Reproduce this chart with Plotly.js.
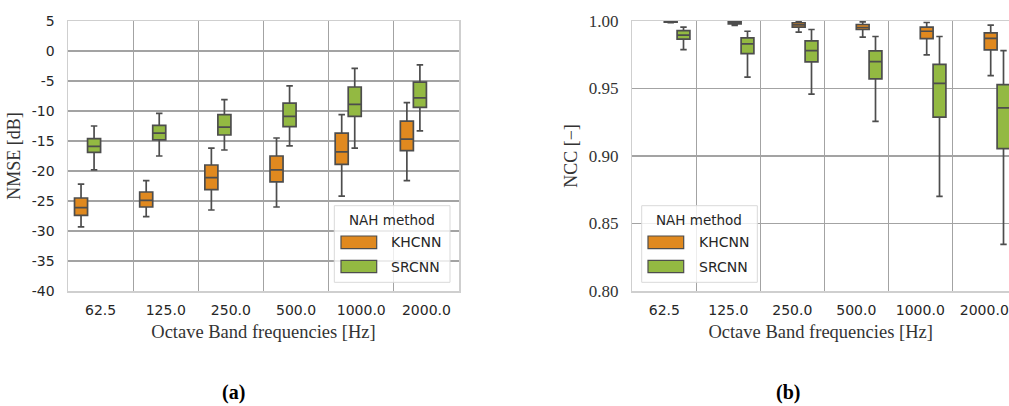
<!DOCTYPE html>
<html>
<head>
<meta charset="utf-8">
<script src="https://cdn.plot.ly/plotly-3.0.1.min.js"></script>
<style>html,body{margin:0;padding:0;background:#fff;}#chart{width:1009px;height:406px;}</style>
</head>
<body>
<div id="chart"></div>
<script>
// ---------- data ----------
const categories = ['62.5', '125.0', '250.0', '500.0', '1000.0', '2000.0'];
const methods = ['KHCNN', 'SRCNN'];

// NMSE [dB]
const nmseKhLow  = [-29.3, -27.6, -26.5, -26.0, -24.2, -21.6];
const nmseKhQ1   = [-27.4, -26.0, -23.1, -21.8, -18.9, -16.6];
const nmseKhMed  = [-26.1, -24.9, -21.1, -19.8, -16.8, -14.7];
const nmseKhQ3   = [-24.5, -23.5, -19.0, -17.5, -13.7, -11.7];
const nmseKhHigh = [-22.2, -21.6, -16.2, -14.5, -10.6, -8.6];

const nmseSrLow  = [-19.8, -17.5, -16.5, -15.8, -16.2, -13.3];
const nmseSrQ1   = [-16.9, -14.8, -14.0, -12.6, -10.9, -9.4];
const nmseSrMed  = [-15.9, -13.7, -12.7, -10.9, -8.9, -7.8];
const nmseSrQ3   = [-14.6, -12.4, -10.6, -8.7, -6.0, -5.2];
const nmseSrHigh = [-12.5, -10.4, -8.1, -5.8, -2.9, -2.3];

// NCC [-]
const nccKhLow  = [0.9987, 0.9968, 0.9917, 0.9880, 0.9749, 0.9595];
const nccKhQ1   = [0.9991, 0.9979, 0.9954, 0.9937, 0.9870, 0.9786];
const nccKhMed  = [0.9994, 0.9986, 0.9972, 0.9952, 0.9924, 0.9872];
const nccKhQ3   = [0.9996, 0.9993, 0.9987, 0.9974, 0.9954, 0.9912];
const nccKhHigh = [0.9999, 0.9999, 0.9996, 0.9994, 0.9989, 0.9969];

const nccSrLow  = [0.9788, 0.9585, 0.9459, 0.9256, 0.8701, 0.8345];
const nccSrQ1   = [0.9865, 0.9759, 0.9697, 0.9571, 0.9288, 0.9055];
const nccSrMed  = [0.9895, 0.9831, 0.9781, 0.9699, 0.9538, 0.9357];
const nccSrQ3   = [0.9929, 0.9875, 0.9853, 0.9779, 0.9679, 0.9528];
const nccSrHigh = [0.9954, 0.9924, 0.9937, 0.9885, 0.9885, 0.9781];

const nmseTickVals = [-40, -35, -30, -25, -20, -15, -10, -5, 0, 5];
const nmseTickText = ['-40', '-35', '-30', '-25', '-20', '-15', '-10', '-5', '0', '5'];
const nccTickVals = [0.80, 0.85, 0.90, 0.95, 1.00];
const nccTickText = ['0.80', '0.85', '0.90', '0.95', '1.00'];

// ---------- style ----------
const colors = {KHCNN: '#E0891F', SRCNN: '#93B942'};
const edge = '#4d4d4d';
const W = 1009, H = 406;
const plotTop = 21, plotBottom = 291;
const sans = 'DejaVu Sans, sans-serif';
const serif = 'Liberation Serif, serif';

function box(name, xa, ya, lo, q1, med, q3, hi) {
  return {
    type: 'box', name: name, x: categories, xaxis: xa, yaxis: ya,
    lowerfence: lo, q1: q1, median: med, q3: q3, upperfence: hi,
    fillcolor: colors[name], line: {color: edge, width: 1.7},
    whiskerwidth: 0.5, showlegend: false, hoverinfo: 'y', boxpoints: false
  };
}

const data = [
  box('KHCNN', 'x', 'y', nmseKhLow, nmseKhQ1, nmseKhMed, nmseKhQ3, nmseKhHigh),
  box('SRCNN', 'x', 'y', nmseSrLow, nmseSrQ1, nmseSrMed, nmseSrQ3, nmseSrHigh),
  box('KHCNN', 'x2', 'y2', nccKhLow, nccKhQ1, nccKhMed, nccKhQ3, nccKhHigh),
  box('SRCNN', 'x2', 'y2', nccSrLow, nccSrQ1, nccSrMed, nccSrQ3, nccSrHigh)
];

// pixel -> paper helpers (for legend decorations and panel labels)
const px = v => v / W;
const py = v => (plotBottom - v) / (plotBottom - plotTop);

const shapes = [];
const annotations = [];
function legendBlock(x0, x1, swX0, swX1, txtX, titleX) {
  shapes.push({type: 'rect', xref: 'paper', yref: 'paper', x0: px(x0), x1: px(x1), y0: py(282.3), y1: py(205.7),
    fillcolor: 'rgba(255,255,255,0.8)', line: {color: '#d9d9d9', width: 1}, layer: 'above'});
  annotations.push({xref: 'paper', yref: 'paper', x: px(titleX), y: py(219.5), xanchor: 'center', yanchor: 'middle',
    text: 'NAH method', showarrow: false, font: {family: sans, size: 13.5, color: '#262626'}});
  const rows = [[236, 248.7, 242.3], [260.3, 272.7, 266.8]];
  methods.forEach((m, i) => {
    shapes.push({type: 'rect', xref: 'paper', yref: 'paper', x0: px(swX0), x1: px(swX1), y0: py(rows[i][1]), y1: py(rows[i][0]),
      fillcolor: colors[m], line: {color: edge, width: 1.2}, layer: 'above'});
    annotations.push({xref: 'paper', yref: 'paper', x: px(txtX), y: py(rows[i][2]), xanchor: 'left', yanchor: 'middle',
      text: m, showarrow: false, font: {family: sans, size: 14, color: '#262626'}});
  });
}
legendBlock(334.3, 450, 341, 376.7, 389, 392.3);
legendBlock(641.7, 757.3, 648, 683.7, 696.5, 699.3);

annotations.push({xref: 'paper', yref: 'paper', x: px(233), y: py(392), xanchor: 'center', yanchor: 'middle',
  text: '<b>(a)</b>', showarrow: false, font: {family: serif, size: 20, color: '#000'}});
annotations.push({xref: 'paper', yref: 'paper', x: px(788), y: py(392), xanchor: 'center', yanchor: 'middle',
  text: '<b>(b)</b>', showarrow: false, font: {family: serif, size: 20, color: '#000'}});

const gridColor = '#a3a3a3';
const frameColor = '#cfcfcf';
const xBase = {
  type: 'category', tickson: 'boundaries', ticks: '', showgrid: true, gridcolor: gridColor, gridwidth: 1.2,
  showline: true, linecolor: frameColor, linewidth: 1.5, mirror: true, zeroline: false,
  tickfont: {family: sans, size: 14, color: '#262626'}, ticklabelstandoff: 6,
  title: {text: 'Octave Band frequencies [Hz]', font: {family: serif, size: 18.5, color: '#333'}, standoff: 8}
};

const layout = {
  width: W, height: H,
  margin: {l: 0, r: 0, t: plotTop, b: H - plotBottom, pad: 0},
  paper_bgcolor: '#fff', plot_bgcolor: '#fff',
  boxmode: 'group', boxgap: 0.2, boxgroupgap: 0,
  showlegend: false,
  xaxis: Object.assign({}, xBase, {domain: [px(68), px(459)], anchor: 'y', range: [-0.5, 5.5]}),
  yaxis: {
    domain: [0, 1], anchor: 'x', range: [-40, 5], tickvals: nmseTickVals, ticktext: nmseTickText,
    ticks: '', showgrid: true, gridcolor: gridColor, gridwidth: 1.2, zeroline: false,
    showline: true, linecolor: frameColor, linewidth: 1.5, mirror: true,
    tickfont: {family: sans, size: 14, color: '#262626'}, ticklabelstandoff: 9,
    title: {text: 'NMSE [dB]', font: {family: serif, size: 18, color: '#333'}, standoff: 6}
  },
  xaxis2: Object.assign({}, xBase, {domain: [px(632.3), 1], anchor: 'y2', range: [-0.5, 5.386]}),
  yaxis2: {
    domain: [0, 1], anchor: 'x2', range: [0.80, 1.00], tickvals: nccTickVals, ticktext: nccTickText,
    ticks: '', showgrid: true, gridcolor: gridColor, gridwidth: 1.2, zeroline: false,
    showline: true, linecolor: frameColor, linewidth: 1.5, mirror: false,
    tickfont: {family: serif, size: 17, color: '#333'}, ticklabelstandoff: 9,
    title: {text: 'NCC [\u2212]', font: {family: serif, size: 18, color: '#333'}, standoff: 6}
  },
  shapes: shapes,
  annotations: annotations
};

Plotly.newPlot('chart', data, layout, {displayModeBar: false, staticPlot: true});
</script>
</body>
</html>
